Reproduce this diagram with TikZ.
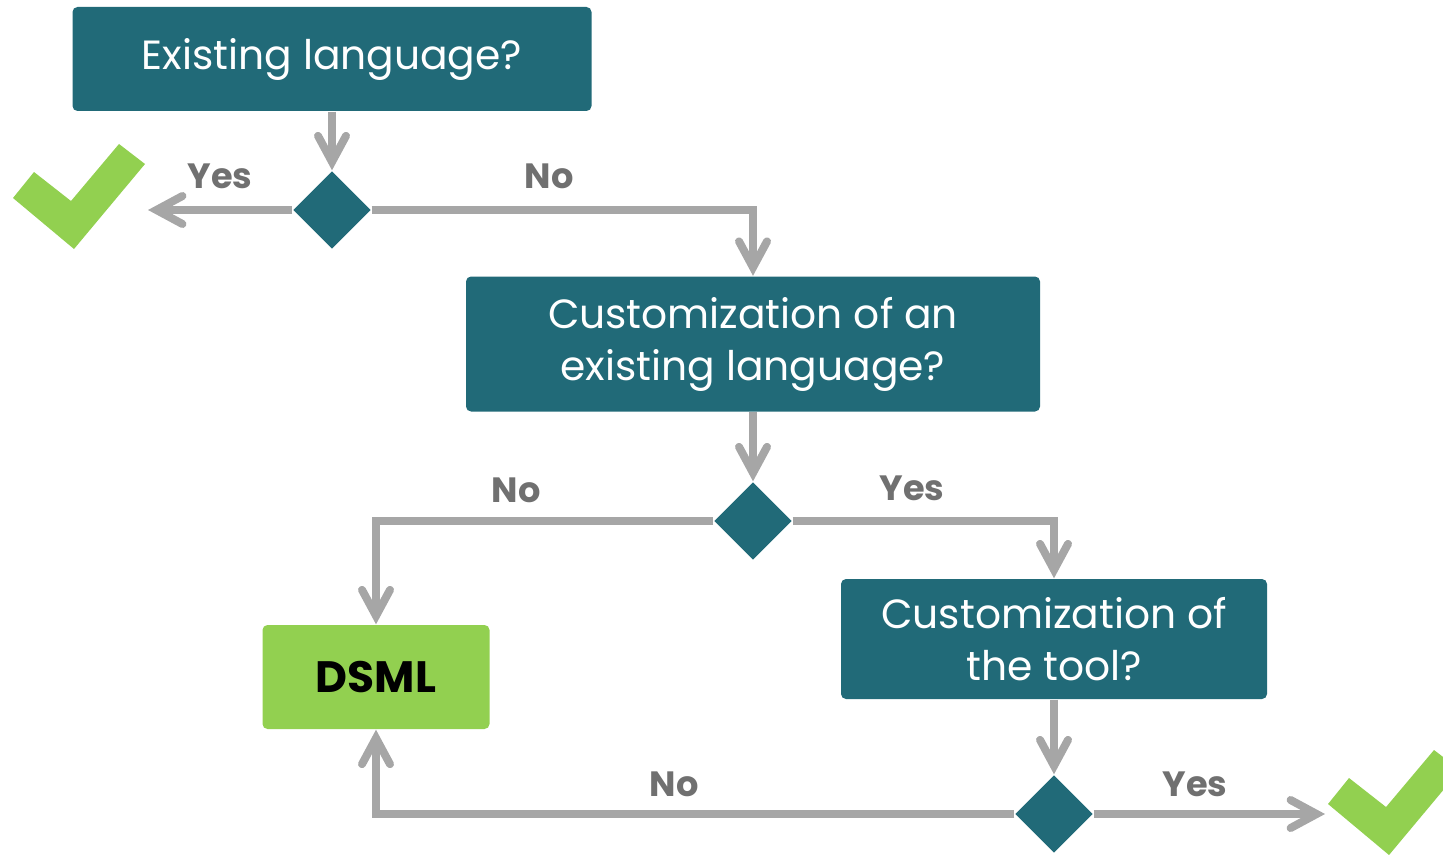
\documentclass[tikz,border=0pt]{standalone}
\usepackage{fontspec}
\setmainfont{Poppins}
\usepackage{tikz}
\usetikzlibrary{arrows.meta,shapes.geometric,positioning}
\definecolor{qteal}{RGB}{33,106,120}
\definecolor{okgreen}{RGB}{146,208,80}
\definecolor{flowgrey}{RGB}{166,166,166}
\definecolor{labgrey}{RGB}{112,112,112}

\tikzset{
	question/.style={fill=qteal, rounded corners=0.5mm, text=white, align=center, inner sep=0pt,
		font=\fontsize{11.6}{14.8}\selectfont},
	choice/.style={diamond, fill=qteal, inner sep=0pt, minimum width=7.8mm, minimum height=7.8mm},
	result/.style={fill=okgreen, rounded corners=0.5mm, inner sep=0pt,
		font=\bfseries\fontsize{12.5}{15}\selectfont},
	flow/.style={flowgrey, line width=0.8mm,
		-{Straight Barb[length=2.6mm,width=2.8mm,line cap=round]}},
	answer/.style={labgrey, font=\bfseries\fontsize{10}{12}\selectfont}
}

\begin{document}
\begin{tikzpicture}[x=0.1mm,y=-0.1mm]
			\useasboundingbox (0,0) rectangle (1443,854);
			% questions
			\node[question, minimum width=51.9mm, minimum height=10.4mm] (q1) at (332,59) {Existing language?};
			\node[question, minimum width=57.4mm, minimum height=13.5mm] (q2) at (753,344) {Customization of an\\existing language?};
			\node[question, minimum width=42.6mm, minimum height=12mm] (q3) at (1054,639) {Customization of\\the tool?};
			\node[result, minimum width=22.7mm, minimum height=10.4mm] (dsml) at (376,677) {DSML};
			% decisions
			\node[choice] (d1) at (332,210) {};
			\node[choice] (d2) at (753,521) {};
			\node[choice] (d3) at (1054,814) {};
			\coordinate (yes1) at (148,210);
			\coordinate (yes3) at (1325,814);
			% check marks
			\foreach \dx/\dy in {0/0,1315/606}
			\fill[okgreen, shift={(\dx,\dy)}] (13,198) -- (34,172) -- (71,201) -- (119,144) -- (145,164) -- (74,249) -- cycle;
			% connectors
			\draw[flow] (q1) -- (d1);
			\draw[flow] (d1.west) -- (yes1);
			\draw[flow] (d1.east) -| (q2.north);
			\draw[flow] (q2) -- (d2);
			\draw[flow] (d2.west) -| (dsml.north);
			\draw[flow] (d2.east) -| (q3.north);
			\draw[flow] (q3) -- (d3);
			\draw[flow] (d3.west) -| (dsml.south);
			\draw[flow] (d3.east) -- (yes3);
			% labels
			\node[answer] (a1) at (220,176) {Yes};
			\node[answer] (a2) at (549,176) {No};
			\node[answer] (a3) at (516,490) {No};
			\node[answer] (a4) at (912,488) {Yes};
			\node[answer] (a5) at (674,784) {No};
			\node[answer] (a6) at (1195,784) {Yes};
\end{tikzpicture}
\end{document}
